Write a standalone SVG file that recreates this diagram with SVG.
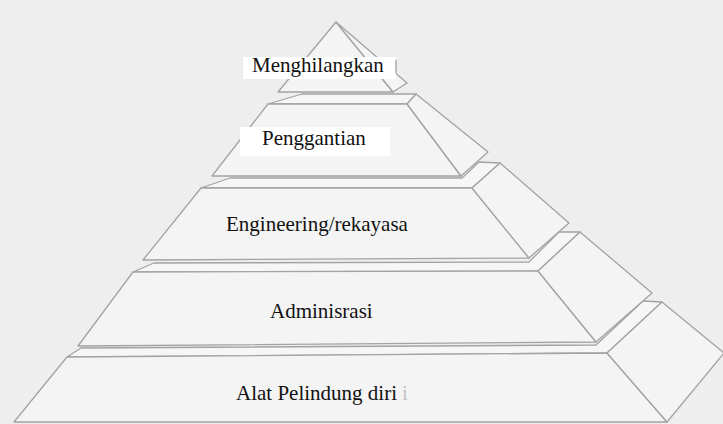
<svg xmlns="http://www.w3.org/2000/svg" width="723" height="424" viewBox="0 0 723 424">
<style>
.face{fill:#f4f4f4;stroke:#a3a3a3;stroke-width:1.3;stroke-linejoin:round}
.ledge{fill:#f6f6f6;stroke:#a3a3a3;stroke-width:1.3;stroke-linejoin:round}
.lbl{font-family:"Liberation Serif","Times New Roman",serif;font-size:21px;fill:#111}
.box{fill:#ffffff}
</style>
<rect width="723" height="424" fill="#eeeeee"/>
<g id="tier5">
<polygon class="ledge" points="67,357 81,348 596,345 643,301 662,302 607,353"/>
<polygon class="face" points="67,357 607,353 667,422 14,422"/>
<polygon class="face" points="607,353 662,302 724,353 667,422"/>
</g>
<g id="tier4">
<polygon class="ledge" points="133,272 154,263 529,262 559,232 580,232 538,271"/>
<polygon class="face" points="133,272 538,271 596,342 78,346"/>
<polygon class="face" points="538,271 580,232 652,293 596,342"/>
</g>
<g id="tier3">
<polygon class="ledge" points="201,188 230,178 462,178 479,162 500,163 472,188"/>
<polygon class="face" points="201,188 472,188 529,258 143,260"/>
<polygon class="face" points="472,188 500,163 569,223 529,258"/>
</g>
<g id="tier2">
<polygon class="ledge" points="268,104 302,94 416,94 407,104"/>
<polygon class="face" points="268,104 407,104 461,176 212,176"/>
<polygon class="face" points="407,104 416,94 488,152 461,176"/>
</g>
<g id="tier1">
<polygon class="face" points="336,22 393,92 278,92"/>
<polygon class="face" points="336,22 407,83 393,92"/>
</g>
<g id="label1">
<rect class="box" x="243" y="57" width="153" height="22"/>
<rect x="395" y="60" width="2" height="13" fill="#bdbdbd"/>
<text class="lbl" x="252" y="72">Menghilangkan</text>
</g>
<g id="label2">
<rect class="box" x="240" y="127" width="150" height="29"/>
<text class="lbl" x="262" y="145">Penggantian</text>
</g>
<g id="label3">
<text class="lbl" x="226" y="231">Engineering/rekayasa</text>
</g>
<g id="label4">
<text class="lbl" x="270" y="318">Adminisrasi</text>
</g>
<g id="label5">
<text class="lbl" x="236" y="400">Alat Pelindung diri</text>
<text class="lbl" x="402" y="400" fill="#c4c4c4" style="fill:#c4c4c4">i</text>
</g>
</svg>
